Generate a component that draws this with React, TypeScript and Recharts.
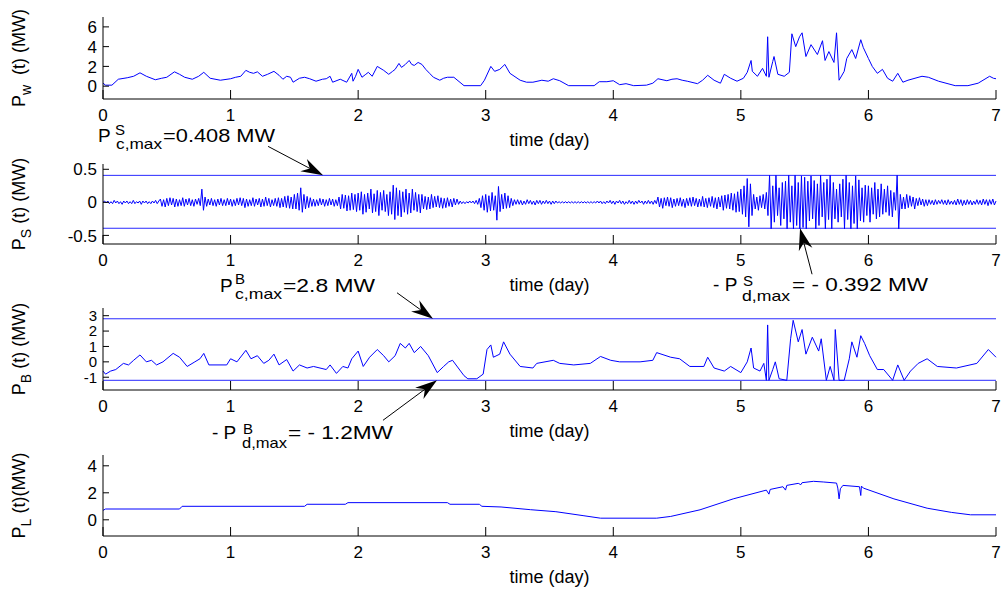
import * as React from 'react'
import { LineChart, Line, XAxis, YAxis, ReferenceLine, ReferenceDot } from 'recharts'

const FONT = '"Liberation Sans", Arial, Helvetica, sans-serif'
const BLUE = '#0000ff'
const LIMIT_BLUE = '#2a2aff'

const dayTicks = [0, 1, 2, 3, 4, 5, 6, 7]

// wind power P_w(t), MW  [day, MW]
const windSamples: [number, number][] = [
  [0, 0.3], [0.02, 0.1], [0.07, 0.1], [0.12, 0.7], [0.19, 0.85], [0.24, 1.0], [0.29, 1.35], [0.34, 1.0],
  [0.41, 0.65], [0.46, 0.8], [0.5, 0.9], [0.56, 1.45], [0.6, 1.2], [0.64, 0.9], [0.7, 0.7], [0.75, 1.0],
  [0.79, 1.4], [0.84, 0.8], [0.92, 0.6], [1.0, 0.75], [1.04, 0.9], [1.08, 1.0], [1.12, 1.6], [1.15, 1.4],
  [1.18, 1.3], [1.21, 1.45], [1.25, 1.0], [1.29, 1.2], [1.34, 1.5], [1.38, 1.1], [1.41, 0.7], [1.44, 1.0],
  [1.47, 0.9], [1.49, 0.4], [1.54, 0.8], [1.58, 0.9], [1.62, 0.75], [1.67, 0.5], [1.72, 0.7], [1.75, 0.75],
  [1.78, 1.0], [1.8, 0.4], [1.86, 0.7], [1.91, 0.4], [1.95, 1.3], [1.96, 0.5], [1.98, 1.0], [2.0, 1.7],
  [2.03, 0.9], [2.06, 1.2], [2.08, 1.4], [2.11, 1.0], [2.15, 2.0], [2.2, 1.6], [2.24, 1.2], [2.27, 1.5],
  [2.29, 1.7], [2.32, 2.3], [2.34, 1.9], [2.37, 2.2], [2.4, 2.6], [2.42, 2.2], [2.44, 2.1], [2.47, 2.4],
  [2.5, 2.2], [2.53, 1.7], [2.56, 1.3], [2.59, 0.9], [2.64, 0.6], [2.67, 0.8], [2.7, 0.9], [2.75, 0.9],
  [2.83, 0.05], [2.96, 0.05], [2.99, 0.6], [3.04, 2.0], [3.07, 1.5], [3.11, 1.7], [3.15, 2.2], [3.19, 1.3],
  [3.27, 0.6], [3.32, 0.4], [3.37, 0.4], [3.44, 0.6], [3.49, 0.5], [3.53, 0.75], [3.58, 0.55], [3.65, 0.05],
  [3.85, 0.05], [3.89, 0.45], [3.95, 0.45], [4.0, 0.55], [4.05, 0.15], [4.1, 0.25], [4.16, 0.05], [4.26, 0.1],
  [4.31, 0.3], [4.35, 0.75], [4.42, 0.55], [4.46, 0.7], [4.5, 0.75], [4.54, 0.6], [4.58, 0.5], [4.66, 0.25],
  [4.7, 0.6], [4.74, 1.1], [4.79, 0.6], [4.84, 0.3], [4.87, 1.2], [4.92, 0.8], [4.97, 0.5], [5.02, 0.8],
  [5.05, 1.4], [5.08, 2.6], [5.09, 1.5], [5.13, 1.0], [5.17, 1.8], [5.2, 1.0], [5.21, 5.0], [5.22, 0.9],
  [5.25, 2.5], [5.26, 3.0], [5.29, 1.2], [5.34, 1.0], [5.38, 1.4], [5.4, 5.3], [5.43, 4.0], [5.46, 5.0],
  [5.48, 5.4], [5.51, 3.0], [5.55, 4.2], [5.6, 3.2], [5.64, 4.6], [5.66, 2.6], [5.69, 3.5], [5.73, 2.4],
  [5.75, 5.4], [5.77, 0.6], [5.81, 1.5], [5.83, 2.8], [5.87, 3.7], [5.9, 2.8], [5.94, 4.7], [5.96, 3.9],
  [6.0, 2.8], [6.03, 2.0], [6.07, 1.3], [6.11, 1.7], [6.15, 0.8], [6.19, 0.5], [6.23, 1.3], [6.27, 0.4],
  [6.31, 0.6], [6.42, 1.0], [6.47, 0.9], [6.55, 0.5], [6.68, 0.05], [6.78, 0.05], [6.86, 0.3], [6.95, 1.0],
  [6.98, 0.8], [7.0, 0.75],
]

// supercapacitor power P_S(t), MW, one sample every 0.0125 day (40 per half day)
const storageStep = 0.0125
const storageValues = [
  0, 0.02, -0.01, 0.02, -0.02, 0.01, -0.02, 0.03, -0.01, 0.02,
  -0.02, 0.01, -0.03, 0.02, -0.01, 0.02, -0.02, 0.01, -0.02, 0.03,
  -0.02, 0.01, -0.01, 0.02, -0.03, 0.02, -0.01, 0.02, -0.02, 0.01,
  -0.02, 0.02, -0.01, 0.03, -0.02, 0.02, 0.05, -0.06, 0.04, -0.07,

  0.06, -0.05, 0.07, -0.04, 0.06, -0.07, 0.05, -0.06, 0.04, -0.05,
  0.07, -0.06, 0.05, -0.04, 0.06, -0.05, 0.04, -0.06, 0.05, -0.03,
  0.06, -0.05, 0.2, -0.12, 0.08, -0.06, 0.05, -0.04, 0.06, -0.05,
  0.04, -0.06, 0.05, -0.04, 0.06, -0.05, 0.04, -0.05, 0.06, -0.04,

  0.05, -0.06, 0.04, -0.05, 0.06, -0.04, 0.07, -0.05, 0.06, -0.08,
  0.05, -0.06, 0.04, -0.05, 0.07, -0.06, 0.05, -0.04, 0.06, -0.07,
  0.05, -0.06, 0.08, -0.05, 0.06, -0.07, 0.04, -0.05, 0.06, -0.06,
  0.07, -0.08, 0.06, -0.07, 0.09, -0.08, 0.1, -0.09, 0.08, -0.1,

  0.12, -0.1, 0.14, -0.12, 0.22, -0.15, 0.12, -0.1, 0.09, -0.08,
  0.07, -0.06, 0.05, -0.06, 0.04, -0.05, 0.06, -0.04, 0.05, -0.06,
  0.04, -0.05, 0.06, -0.04, 0.05, -0.06, 0.04, -0.05, 0.08, -0.1,
  0.12, -0.09, 0.11, -0.13, 0.1, -0.12, 0.14, -0.11, 0.12, -0.14,

  0.14, -0.12, 0.16, -0.18, 0.12, -0.15, 0.14, -0.1, 0.2, -0.16,
  0.13, -0.14, 0.18, -0.2, 0.15, -0.12, 0.18, -0.14, 0.12, -0.2,
  0.16, -0.18, 0.26, -0.26, 0.22, -0.2, 0.18, -0.22, 0.16, -0.15,
  0.2, -0.18, 0.14, -0.16, 0.2, -0.12, 0.15, -0.14, 0.12, -0.16,

  0.12, -0.1, 0.09, -0.11, 0.08, -0.1, 0.12, -0.08, 0.09, -0.07,
  0.1, -0.08, 0.07, -0.09, 0.06, -0.08, 0.07, -0.06, 0.05, -0.07,
  0.06, -0.04, 0.05, -0.03, 0.02, -0.02, 0.01, -0.02, 0.01, -0.01,
  0.02, -0.01, 0.02, -0.02, 0.03, -0.03, 0.06, -0.08, 0.1, -0.12,

  0.12, -0.15, 0.1, -0.13, 0.15, -0.12, 0.1, -0.27, 0.24, -0.14,
  0.12, -0.1, 0.14, -0.09, 0.1, -0.08, 0.06, -0.05, 0.04, -0.03,
  0.04, -0.03, 0.03, -0.04, 0.02, -0.03, 0.04, -0.02, 0.03, -0.03,
  0.02, -0.04, 0.03, -0.02, 0.03, -0.03, 0.02, -0.02, 0.03, -0.02,

  0.02, -0.03, 0.02, -0.02, 0.02, -0.01, 0.01, -0.01, 0.01, -0.01,
  0.01, -0.01, 0.01, -0.01, 0.01, -0.01, 0.01, -0.01, 0.01, -0.01,
  0.01, -0.01, 0.01, -0.01, 0.01, -0.01, 0.01, -0.01, 0.01, -0.01,
  0.02, -0.01, 0.02, -0.02, 0.01, -0.02, 0.02, -0.01, 0.03, -0.02,

  0.02, -0.03, 0.02, -0.01, 0.03, -0.02, 0.02, -0.03, 0.01, -0.02,
  0.03, -0.02, 0.02, -0.03, 0.02, -0.02, 0.03, -0.01, 0.02, -0.03,
  0.02, -0.02, 0.03, -0.02, 0.02, -0.03, 0.03, -0.02, 0.08, -0.07,
  0.06, -0.09, 0.07, -0.05, 0.08, -0.06, 0.07, -0.08, 0.05, -0.06,

  0.06, -0.05, 0.07, -0.06, 0.05, -0.08, 0.06, -0.05, 0.07, -0.06,
  0.08, -0.05, 0.06, -0.07, 0.05, -0.06, 0.09, -0.07, 0.06, -0.08,
  0.07, -0.06, 0.09, -0.08, 0.07, -0.1, 0.08, -0.07, 0.1, -0.12,
  0.11, -0.09, 0.12, -0.1, 0.14, -0.12, 0.13, -0.15, 0.16, -0.14,

  0.2, -0.18, 0.25, -0.22, 0.36, -0.37, 0.28, -0.2, 0.12, -0.1,
  0.08, -0.12, 0.1, -0.08, 0.12, -0.1, 0.15, -0.2, 0.41, -0.4,
  0.25, -0.3, 0.41, -0.2, 0.22, -0.35, 0.3, -0.25, 0.32, -0.4,
  0.41, -0.3, 0.25, -0.4, 0.41, -0.35, 0.3, -0.4, 0.4, -0.38,

  0.38, -0.4, 0.32, -0.28, 0.4, -0.25, 0.33, -0.4, 0.28, -0.35,
  0.41, -0.22, 0.3, -0.4, 0.35, -0.26, 0.41, -0.4, 0.3, -0.25,
  0.2, -0.3, 0.28, -0.22, 0.35, -0.4, 0.41, -0.26, 0.3, -0.4,
  0.25, -0.32, 0.4, -0.4, 0.34, -0.28, 0.22, -0.3, 0.26, -0.2,

  0.25, -0.3, 0.22, -0.18, 0.3, -0.25, 0.2, -0.22, 0.28, -0.18,
  0.2, -0.15, 0.25, -0.2, 0.18, -0.22, 0.15, -0.12, 0.41, -0.4,
  0.12, -0.1, 0.08, -0.1, 0.12, -0.08, 0.1, -0.06, 0.08, -0.1,
  0.06, -0.05, 0.07, -0.04, 0.05, -0.06, 0.04, -0.05, 0.04, -0.03,

  0.03, -0.04, 0.04, -0.03, 0.03, -0.02, 0.04, -0.03, 0.03, -0.04,
  0.04, -0.03, 0.02, -0.03, 0.03, -0.04, 0.05, -0.03, 0.04, -0.05,
  0.03, -0.04, 0.04, -0.03, 0.03, -0.04, 0.02, -0.03, 0.04, -0.03,
  0.03, -0.04, 0.05, -0.03, 0.04, -0.05, 0.04, -0.03, 0.05, -0.04,
  0.02,
]
const storageChargeMax = 0.408
const storageDischargeMax = -0.392

// battery power P_B(t), MW  [day, MW]
const batterySamples: [number, number][] = [
  [0, -0.6], [0.02, -0.8], [0.06, -0.6], [0.1, -0.5], [0.16, -0.1], [0.2, -0.2], [0.24, 0.1], [0.29, 0.45],
  [0.34, 0.0], [0.38, 0.1], [0.42, -0.2], [0.47, 0.0], [0.55, 0.55], [0.6, 0.3], [0.66, -0.3], [0.72, 0.0],
  [0.76, 0.2], [0.79, 0.55], [0.83, -0.2], [0.97, -0.2], [1.0, 0.2], [1.05, 0.0], [1.12, 0.75], [1.16, 0.2],
  [1.21, 0.4], [1.26, -0.1], [1.3, 0.1], [1.34, 0.5], [1.38, -0.2], [1.44, 0.15], [1.49, -0.6], [1.54, -0.2],
  [1.6, -0.4], [1.65, -0.3], [1.75, -0.5], [1.78, -0.2], [1.83, -0.75], [1.88, -0.3], [1.92, -0.4], [1.95, 0.2],
  [2.0, 0.7], [2.04, -0.3], [2.09, 0.3], [2.15, 0.8], [2.2, 0.4], [2.24, 0.0], [2.29, 0.4], [2.33, 1.2],
  [2.37, 0.9], [2.4, 1.2], [2.44, 0.6], [2.49, 1.0], [2.55, 0.4], [2.62, -0.7], [2.67, -0.3], [2.71, 0.0],
  [2.74, 0.1], [2.83, -0.9], [2.86, -1.1], [2.93, -1.1], [2.98, -0.8], [3.01, 0.8], [3.04, 1.1], [3.06, 0.3],
  [3.11, 0.5], [3.14, 1.3], [3.19, 0.5], [3.27, -0.3], [3.37, -0.4], [3.4, -0.1], [3.53, 0.1], [3.58, -0.1],
  [3.69, -0.2], [3.82, -0.1], [3.9, 0.35], [3.98, 0.1], [4.05, 0.0], [4.21, 0.0], [4.31, 0.1], [4.34, 0.6],
  [4.45, 0.3], [4.52, 0.2], [4.6, -0.3], [4.71, -0.3], [4.74, 0.3], [4.79, -0.4], [4.87, -0.6], [4.92, -0.3],
  [5.0, -0.7], [5.05, 0.0], [5.08, 0.9], [5.1, -0.4], [5.15, -0.6], [5.18, -0.1], [5.2, -1.2], [5.21, 2.4],
  [5.22, -1.2], [5.25, -0.5], [5.27, 0.0], [5.3, -1.1], [5.36, -1.2], [5.39, 1.5], [5.41, 2.7], [5.45, 1.3],
  [5.48, 2.1], [5.51, 0.5], [5.56, 1.6], [5.61, 0.7], [5.63, 1.5], [5.67, -1.2], [5.7, -0.3], [5.73, -1.2],
  [5.74, 2.1], [5.77, -1.2], [5.81, -1.2], [5.85, 0.2], [5.87, 1.3], [5.91, 0.3], [5.94, 1.7], [5.97, 1.2],
  [6.01, 0.4], [6.07, -0.5], [6.12, -0.5], [6.19, -1.2], [6.23, -0.2], [6.28, -1.2], [6.33, -0.6], [6.39, -0.1],
  [6.46, 0.2], [6.54, -0.3], [6.69, -0.4], [6.85, -0.1], [6.94, 0.8], [7.0, 0.3],
]
const batteryChargeMax = 2.8
const batteryDischargeMax = -1.2

// load P_L(t), MW  [day, MW]
const loadSamples: [number, number][] = [
  [0, 0.7], [0.02, 0.8], [0.6, 0.8], [0.62, 1.0], [1.58, 1.0], [1.6, 1.15], [1.9, 1.15], [1.92, 1.27],
  [2.7, 1.27], [2.72, 1.15], [2.95, 1.15], [2.97, 1.0], [3.12, 0.95], [3.35, 0.75], [3.55, 0.6], [3.77, 0.3],
  [3.9, 0.12], [4.34, 0.12], [4.45, 0.25], [4.68, 0.74], [4.94, 1.55], [5.2, 2.2], [5.22, 1.9], [5.23, 2.25],
  [5.33, 2.45], [5.35, 2.2], [5.36, 2.55], [5.45, 2.7], [5.47, 2.6], [5.48, 2.75], [5.57, 2.85], [5.65, 2.8],
  [5.75, 2.72], [5.76, 2.35], [5.77, 1.55], [5.78, 2.3], [5.8, 2.55], [5.93, 2.45], [5.94, 1.8], [5.945, 2.5],
  [5.96, 2.35], [6.2, 1.55], [6.46, 0.86], [6.65, 0.55], [6.8, 0.37], [7.0, 0.37],
]

const windData = windSamples.map(([t, v]) => ({ t, v }))
const storageData = storageValues.map((v, i) => ({ t: i * storageStep, v }))
const batteryData = batterySamples.map(([t, v]) => ({ t, v }))
const loadData = loadSamples.map(([t, v]) => ({ t, v }))

const LEFT = 103
const RIGHT = 10
const W = 1006

const XTick = (props: any) => {
  const { x, y, payload } = props
  return (
    <g>
      <line x1={x} y1={y} x2={x} y2={y - 9} stroke="#000" />
      <text x={x} y={y + 22} textAnchor="middle" fontSize={17} fontFamily={FONT} fill="#000">
        {payload.value}
      </text>
    </g>
  )
}

const makeYTick = (size: number) => (props: any) => {
  const { x, y, payload } = props
  return (
    <g>
      <line x1={x} y1={y} x2={x + 6} y2={y} stroke="#000" />
      <text x={x - 6} y={y + size * 0.36} textAnchor="end" fontSize={size} fontFamily={FONT} fill="#000">
        {payload.value}
      </text>
    </g>
  )
}

function Arrow({ x1, y1, x2, y2 }: { x1: number; y1: number; x2: number; y2: number }) {
  const a = Math.atan2(y2 - y1, x2 - x1)
  const ux = Math.cos(a)
  const uy = Math.sin(a)
  const L = 22
  const HW = 7
  const B = 15
  const p = (d: number, s: number) => `${x2 - ux * d - uy * s},${y2 - uy * d + ux * s}`
  return (
    <g>
      <line x1={x1} y1={y1} x2={x2 - ux * B} y2={y2 - uy * B} stroke="#000" strokeWidth={1} />
      <polygon points={`${x2},${y2} ${p(L, HW)} ${p(B, 0)} ${p(L, -HW)}`} fill="#000" />
    </g>
  )
}

interface SymProps {
  x: number
  y: number
  lead: string
  sup: string
  sub: string
  tail: string
  supDx: number
  supDy: number
  subDx: number
  subDy: number
  subLen: number
  tailDx: number
  tailLen: number
}

function SymText(p: SymProps) {
  const common = { fontFamily: FONT, fill: '#000' }
  return (
    <g>
      <text x={p.x} y={p.y} fontSize={19} {...common} style={{ whiteSpace: 'pre' }}>{p.lead}</text>
      <text x={p.x + p.supDx} y={p.y + p.supDy} fontSize={15} {...common}>{p.sup}</text>
      <text x={p.x + p.subDx} y={p.y + p.subDy} fontSize={15} textLength={p.subLen} lengthAdjust="spacingAndGlyphs" {...common}>{p.sub}</text>
      <text x={p.x + p.tailDx} y={p.y} fontSize={19} textLength={p.tailLen} lengthAdjust="spacingAndGlyphs" {...common} style={{ whiteSpace: 'pre' }}>{p.tail}</text>
    </g>
  )
}

const storageUpperNote = (props: any) => {
  const { cx, cy } = props
  return (
    <g>
      <Arrow x1={cx - 55} y1={cy - 29} x2={cx} y2={cy} />
      <SymText x={cx - 225} y={cy - 33} lead="P" sup="S" sub="c,max" tail="=0.408 MW"
        supDx={17} supDy={-7} subDx={18} subDy={7} subLen={46} tailDx={65} tailLen={112} />
    </g>
  )
}

const storageLowerNote = (props: any) => {
  const { cx, cy } = props
  return (
    <g>
      <Arrow x1={cx + 12} y1={cy + 46} x2={cx} y2={cy} />
      <SymText x={cx - 87} y={cy + 63} lead="- P" sup="S" sub="d,max" tail="= - 0.392 MW"
        supDx={30} supDy={-5} subDx={29} subDy={10} subLen={48} tailDx={79} tailLen={136} />
    </g>
  )
}

const batteryUpperNote = (props: any) => {
  const { cx, cy } = props
  return (
    <g>
      <Arrow x1={cx - 36} y1={cy - 26} x2={cx} y2={cy} />
      <SymText x={cx - 213} y={cy - 27} lead="P" sup="B" sub="c,max" tail="=2.8 MW"
        supDx={15} supDy={-8} subDx={15} subDy={7} subLen={47} tailDx={63} tailLen={92} />
    </g>
  )
}

const batteryLowerNote = (props: any) => {
  const { cx, cy } = props
  return (
    <g>
      <Arrow x1={cx - 54} y1={cy + 40} x2={cx} y2={cy} />
      <SymText x={cx - 225} y={cy + 59} lead="- P" sup="B" sub="d,max" tail="= - 1.2MW"
        supDx={31} supDy={-5} subDx={30} subDy={9} subLen={45} tailDx={76} tailLen={105} />
    </g>
  )
}

interface PanelProps {
  top: number
  height: number
  plotTop: number
  plotBottom: number
  data: { t: number; v: number }[]
  domain: [number, number]
  ticks: number[]
  tickSize?: number
  sub: string
  rest: string
  children?: React.ReactNode
}

function Panel({ top, height, plotTop, plotBottom, data, domain, ticks, tickSize = 17, sub, rest, children }: PanelProps) {
  const marginTop = plotTop - top
  const axisH = top + height - plotBottom
  const midY = marginTop + (plotBottom - plotTop) / 2
  const labelX = 25
  const YTick = makeYTick(tickSize)
  const yLabel = () => (
    <text transform={`rotate(-90 ${labelX} ${midY})`} x={labelX} y={midY} textAnchor="middle"
      fontSize={18} fontFamily={FONT} fill="#000" style={{ whiteSpace: 'pre' }}>
      <tspan>P</tspan>
      <tspan fontSize={14} dy={6}>{sub}</tspan>
      <tspan dy={-6}>{rest}</tspan>
    </text>
  )
  const xLabel = () => (
    <text x={LEFT + (W - LEFT - RIGHT) / 2} y={plotBottom - top + 47} textAnchor="middle"
      fontSize={18} fontFamily={FONT} fill="#000">
      time (day)
    </text>
  )
  return (
    <div style={{ position: 'absolute', left: 0, top, width: W, height }}>
      <LineChart width={W} height={height} data={data}
        margin={{ top: marginTop, right: RIGHT, bottom: 0, left: 0 }}>
        <XAxis dataKey="t" type="number" domain={[0, 7]} ticks={dayTicks} height={axisH}
          tickSize={0} tickMargin={0} tick={<XTick />} stroke="#000" interval={0}
          axisLine={{ stroke: '#000' }} label={xLabel} />
        <YAxis type="number" domain={domain} ticks={ticks} width={LEFT} allowDataOverflow
          tickSize={0} tickMargin={0} tick={<YTick />} interval={0}
          axisLine={{ stroke: '#000' }} label={yLabel} />
        {children}
        <Line dataKey="v" type="linear" stroke={BLUE} strokeWidth={1} dot={false}
          activeDot={false} isAnimationActive={false} />
      </LineChart>
    </div>
  )
}

export default function App() {
  return (
    <div style={{ position: 'absolute', left: 0, top: 0, width: W, height: 592, background: '#fff' }}>
      <Panel top={0} height={152} plotTop={17} plotBottom={99} data={windData}
        domain={[-1.3, 7]} ticks={[0, 2, 4, 6]} sub="w" rest="  (t) (MW)" />
      <Panel top={118} height={192} plotTop={164} plotBottom={244} data={storageData}
        domain={[-0.63, 0.58]} ticks={[-0.5, 0, 0.5]} sub="S" rest=" (t) (MW)">
        <ReferenceLine y={storageChargeMax} stroke={LIMIT_BLUE} strokeWidth={1} />
        <ReferenceLine y={storageDischargeMax} stroke={LIMIT_BLUE} strokeWidth={1} />
        <ReferenceDot x={1.725} y={storageChargeMax} r={0} shape={storageUpperNote} />
        <ReferenceDot x={5.464} y={storageDischargeMax} r={0} shape={storageLowerNote} />
      </Panel>
      <Panel top={268} height={192} plotTop={308} plotBottom={390} data={batteryData}
        domain={[-1.83, 3.5]} ticks={[-1, 0, 1, 2, 3]} tickSize={15} sub="B" rest=" (t) (MW)">
        <ReferenceLine y={batteryChargeMax} stroke={LIMIT_BLUE} strokeWidth={1} />
        <ReferenceLine y={batteryDischargeMax} stroke={LIMIT_BLUE} strokeWidth={1} />
        <ReferenceDot x={2.587} y={batteryChargeMax} r={0} shape={batteryUpperNote} />
        <ReferenceDot x={2.618} y={batteryDischargeMax} r={0} shape={batteryLowerNote} />
      </Panel>
      <Panel top={440} height={152} plotTop={455} plotBottom={536} data={loadData}
        domain={[-1.2, 4.8]} ticks={[0, 2, 4]} sub="L" rest=" (t)(MW)" />
    </div>
  )
}
